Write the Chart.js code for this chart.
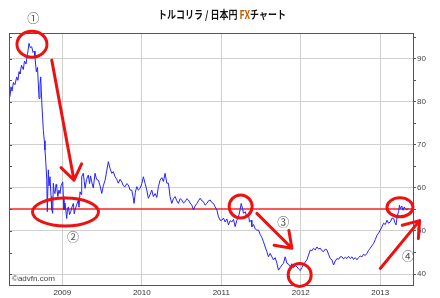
<!DOCTYPE html>
<html>
<head>
<meta charset="utf-8">
<script src="https://cdn.jsdelivr.net/npm/chart.js@4.4.1/dist/chart.umd.min.js"></script>
<style>
  html, body { margin: 0; padding: 0; background: #fff; }
  canvas { display: block; }
</style>
</head>
<body>
<canvas id="tryJpy" width="440" height="298"></canvas>
<script>
// TRY/JPY weekly-ish closes (decimal years)
const dates = [
  2008.341, 2008.354, 2008.367, 2008.385, 2008.404, 2008.426, 2008.442, 2008.455, 2008.467, 2008.486,
  2008.509, 2008.524, 2008.543, 2008.562, 2008.581, 2008.597, 2008.615, 2008.631, 2008.647, 2008.656,
  2008.673, 2008.688, 2008.707, 2008.719, 2008.728, 2008.744, 2008.761, 2008.773, 2008.782, 2008.792,
  2008.804, 2008.811, 2008.824, 2008.833, 2008.845, 2008.858, 2008.867, 2008.879, 2008.887, 2008.898,
  2008.908, 2008.921, 2008.929, 2008.943, 2008.958, 2008.971, 2008.984, 2009.005, 2009.013, 2009.021,
  2009.034, 2009.055, 2009.065, 2009.076, 2009.091, 2009.106, 2009.122, 2009.139, 2009.150, 2009.160,
  2009.179, 2009.202, 2009.210, 2009.223, 2009.236, 2009.244, 2009.264, 2009.276, 2009.286, 2009.305,
  2009.327, 2009.343, 2009.355, 2009.370, 2009.390, 2009.412, 2009.431, 2009.453, 2009.475, 2009.496,
  2009.516, 2009.538, 2009.559, 2009.579, 2009.601, 2009.622, 2009.642, 2009.664, 2009.685, 2009.705,
  2009.727, 2009.748, 2009.768, 2009.790, 2009.811, 2009.831, 2009.853, 2009.874, 2009.890, 2009.903,
  2009.919, 2009.937, 2009.957, 2009.979, 2010.000, 2010.020, 2010.042, 2010.063, 2010.083, 2010.105,
  2010.126, 2010.146, 2010.168, 2010.189, 2010.209, 2010.230, 2010.252, 2010.272, 2010.293, 2010.315,
  2010.335, 2010.356, 2010.378, 2010.398, 2010.419, 2010.441, 2010.461, 2010.482, 2010.504, 2010.524,
  2010.545, 2010.567, 2010.587, 2010.608, 2010.630, 2010.650, 2010.671, 2010.693, 2010.713, 2010.734,
  2010.756, 2010.776, 2010.797, 2010.819, 2010.839, 2010.860, 2010.882, 2010.902, 2010.923, 2010.945,
  2010.965, 2010.986, 2011.008, 2011.028, 2011.049, 2011.071, 2011.091, 2011.112, 2011.134, 2011.154,
  2011.175, 2011.196, 2011.217, 2011.238, 2011.251, 2011.267, 2011.280, 2011.301, 2011.322, 2011.343,
  2011.355, 2011.377, 2011.385, 2011.406, 2011.427, 2011.448, 2011.469, 2011.490, 2011.511, 2011.531,
  2011.553, 2011.574, 2011.594, 2011.616, 2011.637, 2011.657, 2011.679, 2011.700, 2011.720, 2011.742,
  2011.763, 2011.783, 2011.805, 2011.826, 2011.846, 2011.868, 2011.889, 2011.909, 2011.931, 2011.952,
  2011.972, 2011.994, 2012.015, 2012.035, 2012.057, 2012.078, 2012.098, 2012.120, 2012.141, 2012.161,
  2012.183, 2012.204, 2012.224, 2012.246, 2012.267, 2012.287, 2012.309, 2012.330, 2012.350, 2012.372,
  2012.393, 2012.413, 2012.435, 2012.456, 2012.476, 2012.498, 2012.519, 2012.539, 2012.561, 2012.582,
  2012.602, 2012.623, 2012.645, 2012.665, 2012.686, 2012.708, 2012.728, 2012.749, 2012.771, 2012.791,
  2012.812, 2012.834, 2012.854, 2012.875, 2012.897, 2012.917, 2012.938, 2012.960, 2012.980, 2013.001,
  2013.023, 2013.043, 2013.064, 2013.086, 2013.106, 2013.127, 2013.149, 2013.169, 2013.184, 2013.199,
  2013.215, 2013.232, 2013.243, 2013.253, 2013.272, 2013.287, 2013.304, 2013.316, 2013.338, 2013.354
];
const rates = [
  81.2, 83.5, 82.5, 84.5, 84.0, 85.8, 85.0, 87.0, 86.5, 88.5,
  87.5, 89.5, 88.8, 91.0, 93.6, 92.6, 92.8, 91.5, 91.8, 90.3,
  87.0, 88.0, 80.8, 84.0, 85.8, 79.0, 73.4, 71.0, 68.8, 66.0,
  62.0, 54.5, 64.2, 60.5, 62.6, 58.0, 55.0, 54.1, 61.1, 59.0,
  58.7, 60.8, 60.3, 58.0, 59.5, 58.7, 60.5, 61.4, 58.0, 54.9,
  56.5, 52.9, 55.0, 55.6, 53.8, 54.5, 55.6, 56.4, 54.0, 54.9,
  56.0, 57.2, 55.5, 59.1, 58.5, 62.6, 63.4, 61.5, 59.9, 62.0,
  63.0, 61.0, 62.8, 61.4, 60.0, 63.4, 62.0, 61.8, 60.5, 58.7,
  60.5, 61.8, 64.0, 66.1, 64.5, 63.4, 63.8, 62.6, 62.0, 61.1,
  62.0, 61.4, 60.5, 60.3, 61.0, 60.7, 59.5, 59.5, 58.0, 56.4,
  59.0, 60.3, 59.5, 59.9, 61.0, 62.6, 61.0, 59.5, 57.6, 58.5,
  59.5, 58.0, 58.7, 57.8, 60.3, 61.8, 62.4, 61.5, 63.4, 61.1,
  61.1, 58.0, 56.4, 57.5, 58.0, 57.0, 56.4, 57.5, 57.2, 56.5,
  56.8, 57.5, 57.2, 56.5, 56.0, 54.9, 55.8, 56.4, 57.0, 57.6,
  57.0, 56.8, 56.0, 56.4, 57.0, 57.2, 56.6, 56.4, 55.6, 54.9,
  53.3, 52.5, 52.5, 53.0, 52.1, 52.8, 51.4, 52.4, 52.1, 52.7,
  51.0, 52.5, 53.3, 55.0, 56.4, 55.3, 54.1, 54.5, 53.3, 53.8,
  52.1, 52.5, 51.0, 51.5, 50.5, 50.2, 50.2, 49.2, 48.5, 47.5,
  46.3, 45.2, 44.0, 44.8, 44.0, 43.3, 43.8, 42.5, 40.9, 41.5,
  42.1, 42.5, 44.0, 42.5, 42.3, 41.7, 42.4, 41.5, 41.9, 41.7,
  41.2, 40.8, 41.5, 42.1, 42.8, 43.3, 44.4, 45.6, 45.4, 46.0,
  45.6, 46.3, 45.8, 46.0, 45.4, 45.2, 45.8, 45.6, 44.6, 43.6,
  43.3, 42.1, 43.0, 43.6, 43.4, 44.0, 44.0, 43.5, 43.9, 43.6,
  44.1, 43.6, 44.0, 43.4, 43.8, 43.3, 43.8, 44.2, 44.0, 44.6,
  44.3, 44.8, 45.5, 46.0, 46.6, 47.1, 48.0, 49.0, 49.5, 50.2,
  51.0, 51.8, 51.5, 52.5, 51.8, 52.1, 53.0, 52.9, 52.0, 51.4,
  53.5, 54.5, 56.0, 55.2, 55.8, 54.8, 55.6, 55.2, 54.9, 55.3
];
const yearTicks = [2009, 2010, 2011, 2012, 2013];
const rateTicks = [40, 45, 50, 55, 60, 65, 70, 75, 80, 85, 90, 95];
const supportLevel = 55;

// hand-drawn markup: circles, arrows and circled numbers, in data units
const circles = [
  [2008.618, 93.4, 15, 13],
  [2009.040, 54.4, 33, 14],
  [2011.244, 55.7, 11.5, 11.5],
  [2011.987, 39.8, 11.5, 11.5],
  [2013.249, 55.5, 13, 9.5]
];
const arrows = [
  [2008.867, 89.7, 2009.147, 61.8],
  [2011.448, 54.1, 2011.889, 46.0],
  [2013.001, 41.3, 2013.496, 52.4]
];
const numbers = [
  ['①', 2008.635, 99.4],
  ['②', 2009.135, 48.4],
  ['③', 2011.780, 52.0],
  ['④', 2013.350, 44.0]
];

const overlay = {
  id: 'overlay',
  beforeDatasetsDraw(chart) {
    const { ctx, chartArea: a, scales: { y } } = chart;
    const py = Math.round(y.getPixelForValue(supportLevel));
    ctx.save();
    ctx.strokeStyle = '#ff2020';
    ctx.lineWidth = 1.4;
    ctx.beginPath();
    ctx.moveTo(a.left, py);
    ctx.lineTo(a.right, py);
    ctx.stroke();
    ctx.restore();
  },
  afterDraw(chart) {
    const { ctx, chartArea: a, scales: { x, y } } = chart;
    ctx.save();

    // frame + little inner ticks on the left
    ctx.strokeStyle = '#555';
    ctx.lineWidth = 1;
    ctx.strokeRect(Math.round(a.left) + 0.5, Math.round(a.top) + 0.5,
      Math.round(a.right - a.left), Math.round(a.bottom - a.top));
    ctx.beginPath();
    rateTicks.forEach(v => {
      const py = Math.round(y.getPixelForValue(v)) + 0.5;
      ctx.moveTo(a.left, py);
      ctx.lineTo(a.left + 3, py);
    });
    ctx.stroke();

    ctx.font = '8px "Liberation Sans", Arial, sans-serif';
    ctx.fillStyle = '#444';
    ctx.textBaseline = 'alphabetic';
    ctx.fillText('©advfn.com', a.left + 3, a.bottom - 4);

    // title, squeezed a little like the original's narrow kana
    const parts = [['トルコリラ / 日本円 ', '#111'], ['FX', '#c06000'], ['チャート', '#111']];
    ctx.font = 'bold 11px "Noto Sans CJK JP", sans-serif';
    ctx.textBaseline = 'middle';
    const total = parts.reduce((s, p) => s + ctx.measureText(p[0]).width, 0);
    const sx = 128 / total;
    ctx.save();
    ctx.translate(222 - 64, 15);
    ctx.scale(sx, 1);
    let tx = 0;
    parts.forEach(([t, c]) => {
      ctx.fillStyle = c;
      ctx.fillText(t, tx, 0);
      tx += ctx.measureText(t).width;
    });
    ctx.restore();

    // markup
    ctx.strokeStyle = '#ee1111';
    ctx.lineWidth = 3;
    ctx.lineCap = 'round';
    circles.forEach(([cx, cy, rx, ry]) => {
      ctx.beginPath();
      ctx.ellipse(x.getPixelForValue(cx), y.getPixelForValue(cy), rx, ry, 0, 0, Math.PI * 2);
      ctx.stroke();
    });
    arrows.forEach(([x1, y1, x2, y2]) => {
      const p1 = [x.getPixelForValue(x1), y.getPixelForValue(y1)];
      const p2 = [x.getPixelForValue(x2), y.getPixelForValue(y2)];
      const ang = Math.atan2(p2[1] - p1[1], p2[0] - p1[0]);
      ctx.beginPath();
      ctx.moveTo(p1[0], p1[1]);
      ctx.lineTo(p2[0], p2[1]);
      [-1, 1].forEach(s => {
        const b = ang + Math.PI + s * 0.62;
        ctx.moveTo(p2[0], p2[1]);
        ctx.lineTo(p2[0] + 18 * Math.cos(b), p2[1] + 18 * Math.sin(b));
      });
      ctx.stroke();
    });

    ctx.font = '12px "Noto Sans CJK JP", "DejaVu Sans", sans-serif';
    ctx.fillStyle = '#555';
    ctx.textAlign = 'center';
    ctx.textBaseline = 'middle';
    numbers.forEach(([t, nx, ny]) => {
      ctx.fillText(t, x.getPixelForValue(nx), y.getPixelForValue(ny));
    });
    ctx.restore();
  }
};

new Chart(document.getElementById('tryJpy'), {
  type: 'line',
  data: {
    datasets: [{
      data: dates.map((d, i) => ({ x: d, y: rates[i] })),
      borderColor: '#2323ff',
      borderWidth: 1,
      pointRadius: 0,
      tension: 0
    }]
  },
  options: {
    responsive: false,
    animation: false,
    devicePixelRatio: 1,
    layout: { padding: { top: 33, left: 9, right: 0, bottom: 0 } },
    plugins: { legend: { display: false }, tooltip: { enabled: false } },
    scales: {
      x: {
        type: 'linear',
        min: 2008.329,
        max: 2013.413,
        afterBuildTicks: s => { s.ticks = yearTicks.map(v => ({ value: v })); },
        afterFit: s => { s.height = 13; },
        grid: { color: '#d0d0d0', drawTicks: false },
        border: { display: false },
        ticks: {
          padding: 3,
          color: '#333',
          font: { size: 8, family: '"Liberation Sans", Arial, sans-serif' },
          callback: v => String(v),
          maxRotation: 0
        }
      },
      y: {
        position: 'right',
        min: 37.45,
        max: 96,
        afterBuildTicks: s => { s.ticks = rateTicks.map(v => ({ value: v })); },
        afterFit: s => { s.width = 27; },
        grid: {
          color: c => c.tick && c.tick.value % 10 === 0 ? '#d0d0d0' : 'rgba(0,0,0,0)',
          tickColor: '#555',
          tickLength: 3
        },
        border: { display: false },
        ticks: {
          padding: 1,
          color: '#444',
          font: { size: 8, family: '"Liberation Sans", Arial, sans-serif' },
          callback: v => v % 10 === 0 ? String(v) : ''
        }
      }
    }
  },
  plugins: [overlay]
});
</script>
</body>
</html>
